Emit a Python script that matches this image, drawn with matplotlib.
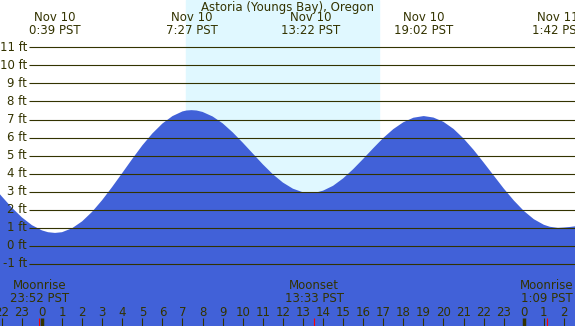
import matplotlib
matplotlib.use('Agg')
import matplotlib.pyplot as plt

# tide height (ft), hours from Nov 10 00:00 PST
hours = [-2.5, -2, -1.5, -1, -0.5, 0, 0.3, 0.65, 1, 1.5, 2, 2.5, 3, 3.5, 4, 4.5, 5, 5.5,
         6, 6.5, 7, 7.2, 7.45, 7.7, 8, 8.5, 9, 9.5, 10, 10.5, 11, 11.5, 12, 12.5, 13, 13.1,
         13.37, 13.7, 14, 14.5, 15, 15.5, 16, 16.5, 17, 17.5, 18, 18.5, 19, 19.03, 19.5,
         20, 20.5, 21, 21.5, 22, 22.5, 23, 23.5, 24, 24.5, 25, 25.3, 25.7, 26, 26.3, 26.8]
tide_ft = [3.39, 2.74, 2.12, 1.58, 1.15, 0.86, 0.76, 0.72, 0.76, 0.98, 1.36, 1.89, 2.54,
           3.27, 4.04, 4.82, 5.57, 6.23, 6.78, 7.19, 7.45, 7.50, 7.52, 7.50, 7.42, 7.17,
           6.79, 6.29, 5.72, 5.12, 4.52, 3.97, 3.51, 3.17, 2.97, 2.95, 2.93, 2.97, 3.06,
           3.33, 3.74, 4.25, 4.82, 5.41, 5.98, 6.47, 6.85, 7.10, 7.19, 7.19, 7.11, 6.87,
           6.48, 5.95, 5.32, 4.62, 3.90, 3.18, 2.52, 1.94, 1.48, 1.17, 1.06, 1.0, 1.02,
           1.05, 1.12]

# high / low labels along the top
extreme_hours = [0.65, 7.45, 13.37, 19.03, 25.7]
extreme_labels = ["Nov 10\n0:39 PST", "Nov 10\n7:27 PST", "Nov 10\n13:22 PST",
                  "Nov 10\n19:02 PST", "Nov 11\n1:42 PST"]

# moon events along the bottom
moon_hours = [-0.13, 13.55, 25.15]
moon_labels = ["Moonrise\n23:52 PST", "Moonset\n13:33 PST", "Moonrise\n1:09 PST"]

sunrise, sunset = 7.17, 16.78
ft_levels = list(range(-1, 12))
hour_ticks = list(range(-2, 27))

title = "Astoria (Youngs Bay), Oregon"

night = "#b0c4de"
day = "#e0f8ff"
water = "#4161d8"
ink = "#333300"

x0, x1 = -2.09, 26.55
y0, y1 = -4.435, 13.62

fig = plt.figure(figsize=(5.75, 3.26), dpi=100)
ax = fig.add_axes([0, 0, 1, 1])
ax.set_xlim(x0, x1)
ax.set_ylim(y0, y1)
ax.set_facecolor(night)
ax.axis('off')

ax.axvspan(sunrise, sunset, color=day, zorder=0)
ax.fill_between(hours, tide_ft, y0, color=water, linewidth=0, zorder=1)

fs = 8.5
for lvl in ft_levels:
    ax.hlines(lvl, -0.65, x1, color=ink, linewidth=0.8, zorder=2)
    ax.text(-0.74, lvl, f"{lvl} ft", ha='right', va='center', fontsize=fs, color=ink, zorder=3)

for h, lab in zip(extreme_hours, extreme_labels):
    ax.text(h, 12.28, lab, ha='center', va='center', fontsize=fs, color=ink,
            linespacing=1.0, zorder=3)

ax.text(0.5, 0.978, title, transform=ax.transAxes, ha='center', va='center',
        fontsize=fs, color=ink, zorder=3)

for h in hour_ticks:
    ax.text(h, -3.67, str(h % 24), ha='center', va='center', fontsize=fs, color=ink, zorder=3)
    if h % 24 == 0:
        ax.vlines(h, -4.44, -3.99, color=ink, linewidth=2.5, zorder=3)
    else:
        ax.vlines(h, -4.44, -3.99, color=ink, linewidth=0.8, zorder=3)

for h, lab in zip(moon_hours, moon_labels):
    ax.text(h, -2.55, lab, ha='center', va='center', fontsize=fs, color=ink,
            linespacing=1.0, zorder=3)
    ax.vlines(h, -4.44, -3.99, color="red", linewidth=0.8, zorder=4)

fig.savefig("out.png", dpi=100)
